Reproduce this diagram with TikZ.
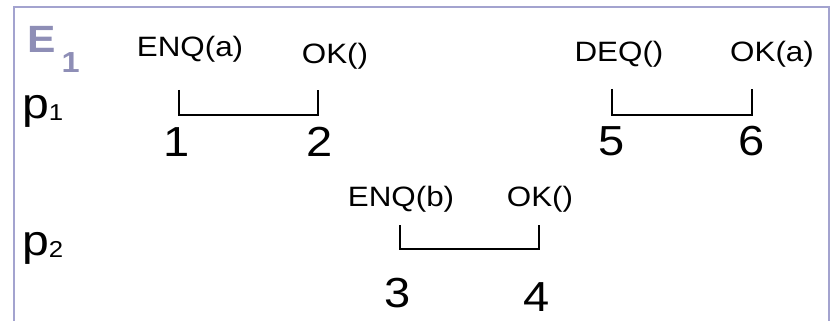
\documentclass[tikz,border=0pt]{standalone}
\usepackage{fontspec}
\setmainfont{Liberation Sans}[FakeStretch=1.12]
\definecolor{histFrame}{HTML}{A3A3CF}
\definecolor{histTitle}{HTML}{8E8EB6}
\newcommand{\procname}[1]{p{\fontsize{23}{25}\selectfont\raisebox{-2pt}{#1}}}

\begin{document}
\begin{tikzpicture}[x=1pt,y=-1pt,
  op/.style={anchor=base, inner sep=0pt, font=\fontsize{28}{30}\selectfont},
  idx/.style={anchor=base, inner sep=0pt, font=\fontsize{42}{44}\selectfont},
  proc/.style={anchor=base west, inner sep=0pt, font=\fontsize{43}{45}\selectfont},
  span/.style={draw=black, line width=2.3pt},
  frame/.style={draw=histFrame, line width=2.4pt}
]
\useasboundingbox (0,0) rectangle (831,321);
% open frame round the history
\draw[frame] (14,321) -- (14,7) -- (829,7) -- (829,321);
\node[anchor=base west, inner sep=0pt, text=histTitle,
  font=\fontsize{38}{40}\selectfont\bfseries] (title) at (27,53)
  {E\hspace{6pt}{\fontsize{29}{30}\selectfont\raisebox{-20pt}{1}}};
% processes
\node[proc] (p1) at (22,118) {\procname{1}};
\node[proc] (p2) at (22,255) {\procname{2}};
% operations of p1
\node[op] (enqa) at (190,57) {ENQ(a)};
\node[op] (ok1) at (335,64) {OK()};
\node[op] (deq) at (619,62) {DEQ()};
\node[op] (oka) at (772,62) {OK(a)};
% operations of p2
\node[op] (enqb) at (401,206) {ENQ(b)};
\node[op] (ok2) at (540,206) {OK()};
% invocation / response brackets
\coordinate (inv1) at (179,90);
\coordinate (res1) at (318,90);
\coordinate (inv2) at (400,225);
\coordinate (res2) at (539,225);
\coordinate (inv3) at (612,89);
\coordinate (res3) at (752,89);
\draw[span] (inv1) -- ++(0,25) -| (res1);
\draw[span] (inv2) -- ++(0,24) -| (res2);
\draw[span] (inv3) -- ++(0,26) -| (res3);
% event numbers
\node[idx] (n1) at (177,157) {1};
\node[idx] (n2) at (320,157) {2};
\node[idx] (n3) at (398,307) {3};
\node[idx] (n4) at (537,311) {4};
\node[idx] (n5) at (612,156) {5};
\node[idx] (n6) at (752,156) {6};
\end{tikzpicture}
\end{document}
